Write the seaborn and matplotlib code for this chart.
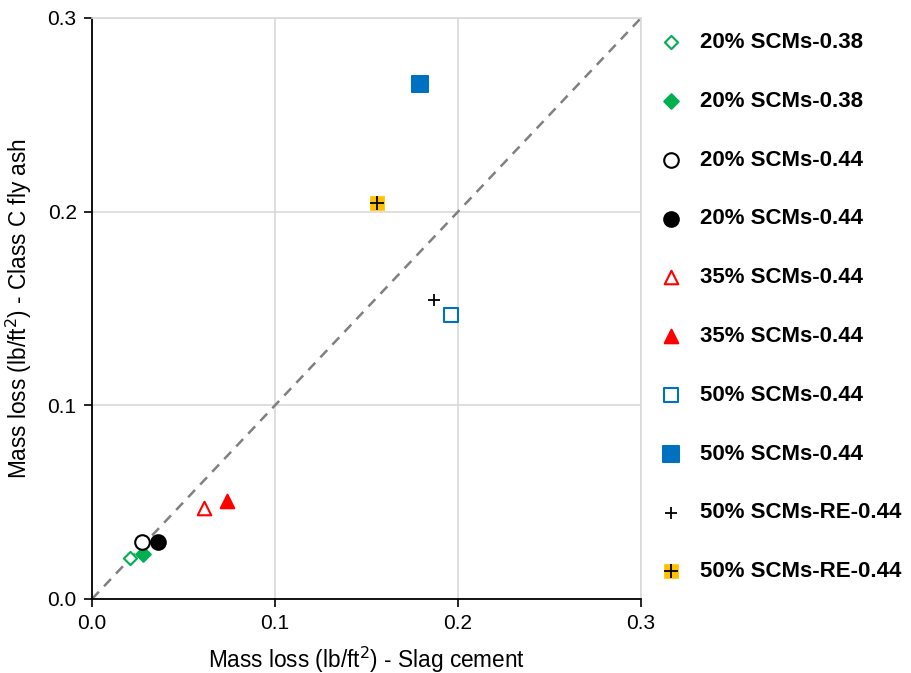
import matplotlib
matplotlib.use("Agg")
import matplotlib.pyplot as plt
import seaborn as sns
import pandas as pd

# data
labels = ["20% SCMs-0.38", "20% SCMs-0.38", "20% SCMs-0.44", "20% SCMs-0.44",
          "35% SCMs-0.44", "35% SCMs-0.44", "50% SCMs-0.44", "50% SCMs-0.44",
          "50% SCMs-RE-0.44", "50% SCMs-RE-0.44"]
slag = [0.021, 0.028, 0.0275, 0.036, 0.061, 0.074, 0.196, 0.179, 0.187, 0.156]
flyash = [0.021, 0.023, 0.0296, 0.0296, 0.047, 0.0505, 0.1465, 0.266, 0.1544, 0.2046]
markers = ["D", "D", "o", "o", "^", "^", "s", "s", "+", "P"]
edge_colors = ["#00B050", "#00B050", "black", "black", "#FF0000", "#FF0000",
               "#0070C0", "#0070C0", "black", "#FFC000"]
face_colors = ["white", "#00B050", "white", "black", "white", "#FF0000",
               "white", "#0070C0", "black", "#FFC000"]
sizes = [45, 55, 110, 110, 95, 95, 110, 130, 80, 90]

sns.set_style("white")
plt.rcParams["font.family"] = ["Liberation Sans", "DejaVu Sans"]
plt.rcParams["text.color"] = "black"
plt.rcParams["axes.labelcolor"] = "black"
plt.rcParams["xtick.color"] = "black"
plt.rcParams["ytick.color"] = "black"

fig = plt.figure(figsize=(9.12, 6.73), dpi=100)
ax = fig.add_axes([92 / 912, 74 / 673, 549 / 912, 581 / 673])

ax.plot([0, 0.3], [0, 0.3], ls=(0, (4, 3)), color="#808080", lw=1.8, zorder=1)

for i in range(len(labels)):
    df = pd.DataFrame({"x": [slag[i]], "y": [flyash[i]]})
    if markers[i] == "+":
        sns.scatterplot(data=df, x="x", y="y", ax=ax, marker="+", color="black",
                        s=sizes[i], linewidth=1.3, label=labels[i], zorder=3)
    elif markers[i] == "P":
        sns.scatterplot(data=df, x="x", y="y", ax=ax, marker="s", color=face_colors[i],
                        edgecolor=face_colors[i], s=sizes[i], linewidth=0.5, zorder=3)
        sns.scatterplot(data=df, x="x", y="y", ax=ax, marker="+", color="black",
                        s=sizes[i], linewidth=1.3, zorder=4)
    else:
        sns.scatterplot(data=df, x="x", y="y", ax=ax, marker=markers[i],
                        facecolor=face_colors[i], edgecolor=edge_colors[i],
                        s=sizes[i], linewidth=1.5, label=labels[i], zorder=3)

ax.set_xlim(0, 0.3)
ax.set_ylim(0, 0.3)
ticks = [0.0, 0.1, 0.2, 0.3]
ax.set_xticks(ticks)
ax.set_yticks(ticks)
ax.set_xticklabels(["0.0", "0.1", "0.2", "0.3"])
ax.set_yticklabels(["0.0", "0.1", "0.2", "0.3"])
ax.grid(True, color="#D9D9D9", lw=1.2)
ax.set_axisbelow(True)
ax.tick_params(axis="both", direction="out", length=6, width=1.2, color="black",
               labelsize=15, pad=5, left=True, bottom=True)
for side in ["left", "bottom"]:
    ax.spines[side].set_color("black")
    ax.spines[side].set_linewidth(1.3)
for side in ["top", "right"]:
    ax.spines[side].set_color("#D9D9D9")
    ax.spines[side].set_linewidth(1.2)

ax.set_xlabel("Mass loss (lb/ft$^2$) - Slag cement", fontsize=16.3, labelpad=8)
ax.set_ylabel("Mass loss (lb/ft$^2$) - Class C fly ash", fontsize=16.3, labelpad=10)

# legend with the combined orange/plus marker built from a handle tuple
handles, lbls = ax.get_legend_handles_labels()
if ax.get_legend() is not None:
    ax.get_legend().remove()
colls = ax.collections
# last two collections: orange square + black plus
handles.append((colls[-2], colls[-1]))
lbls.append(labels[-1])
fig.legend(handles, lbls, loc="upper left", bbox_to_anchor=(0.699, 0.982),
           frameon=False, labelspacing=1.70, handletextpad=0.7, handlelength=1.2,
           prop={"weight": "bold", "size": 16})

fig.savefig("out.png", dpi=100)
